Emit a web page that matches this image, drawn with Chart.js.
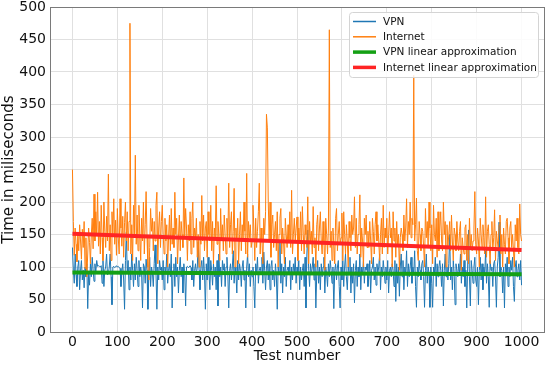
<!DOCTYPE html>
<html>
<head>
<meta charset="utf-8">
<script src="https://cdn.jsdelivr.net/npm/chart.js@4.4.1/dist/chart.umd.min.js"></script>
<style>
  html, body { margin: 0; padding: 0; background: #fff; }
  #wrap { width: 550px; height: 365px; position: relative; }
</style>
</head>
<body>
<div id="wrap"><canvas id="chart"></canvas></div>
<script>
// one sample every 2 tests
const STEP = 2;

const internetTimes = [
  250,170,118,160,135,108,152,125,165,140, 112,158,130,170,98,145,85,120,160,138,
  105,150,175,128,212,140,185,150,215,132, 170,120,195,145,110,200,155,130,178,140,
  243,125,165,110,185,150,205,135,172,118,
  190,145,120,205,160,132,178,115,168,200, 140,185,125,170,475,120,165,110,195,150,
  272,135,180,125,195,150,110,175,140,200, 120,165,216,145,100,80,130,190,155,175,
  125,170,140,195,215,105,160,185,130,170,
  195,150,120,175,140,165,100,145,180,125, 190,135,160,130,215,150,175,105,145,180,
  125,170,150,130,237,145,190,160,110,165, 140,185,120,175,200,130,160,145,175,115,
  150,100,170,135,210,140,180,125,160,170,
  115,185,150,140,195,125,170,105,160,145, 225,135,170,150,110,190,140,165,125,180,
  150,120,175,140,229,130,165,185,120,155, 221,100,160,140,175,105,150,185,125,165,
  140,200,155,120,244,115,170,145,165,130,
  140,195,160,110,175,130,155,185,229,120, 160,140,105,175,150,185,335,314,200,140,
  200,115,165,180,130,150,170,125,185,100, 150,175,190,120,160,140,105,175,150,130,
  165,140,185,130,218,120,150,175,140,160,
  177,110,160,140,185,125,193,150,120,165, 150,130,208,105,170,140,155,120,193,130,
  145,100,165,180,125,160,185,140,120,170, 140,95,175,150,120,160,465,130,155,110,
  160,135,105,175,190,125,150,170,135,145,
  183,110,185,150,120,165,140,100,170,145, 125,180,150,160,208,130,175,120,150,165,
  211,115,160,140,100,175,150,180,130,155, 130,170,140,105,175,155,120,165,185,140,
  165,140,110,150,175,120,195,130,160,145,
  175,120,150,185,145,160,100,185,140,160, 115,170,135,150,95,145,160,150,125,180,
  140,160,205,130,170,150,200,145,175,165, 395,140,165,206,125,110,170,150,125,160,
  155,130,100,190,145,170,130,200,160,125,
  165,105,195,150,140,175,115,185,125,160, 185,140,125,200,150,170,100,165,130,150,
  170,125,180,140,110,160,150,125,170,140, 125,155,170,95,145,130,120,160,165,110,
  150,105,175,130,150,125,140,160,216,135,
  120,160,140,100,175,150,130,165,145,120, 208,115,155,165,135,105,150,170,125,145,
  188,110,155,140,130,165,180,120,150,100, 160,135,120,170,175,145,105,160,170,130,
  150,125,100,165,140,175,130,120,197,150,
  140
];

const vpnTimes = [
  130,95,75,120,88,70,100,110,65,95, 110,80,95,68,100,85,105,36,90,72,
  105,85,115,95,78,105,92,110,101,102, 101,100,102,75,110,70,95,100,120,88,
  90,100,120,85,42,100,101,99,100,102,
  100,101,99,98,70,92,105,80,35,110, 154,90,110,65,100,80,120,95,70,105,
  80,115,95,70,110,85,100,90,37,105, 100,75,112,95,35,85,115,70,100,92,
  70,105,134,90,35,100,80,110,95,100,
  80,110,65,100,90,120,75,95,105,85, 120,37,95,105,70,115,85,100,60,95,
  115,85,100,60,105,90,40,100,101,99, 100,102,99,80,110,70,95,105,88,100,
  139,95,65,100,110,80,115,90,35,105,
  80,115,90,65,110,95,72,105,85,100, 65,110,40,120,85,100,70,110,95,105,
  70,100,115,88,37,95,105,80,100,125, 75,100,90,60,110,80,105,95,70,100,
  110,80,95,37,100,120,85,105,70,95,
  85,100,70,37,105,90,115,75,95,100, 90,115,75,123,95,65,100,110,80,105,
  65,100,110,80,95,70,105,88,35,100, 90,139,75,105,60,100,85,115,70,95,
  100,90,110,65,100,80,105,90,115,75,
  100,90,110,65,100,80,95,105,70,115, 37,120,157,95,70,105,88,100,115,80,
  105,37,90,110,75,100,65,105,85,100, 115,60,100,90,70,105,85,110,95,75,
  100,36,95,105,80,100,110,70,37,100,
  80,110,70,100,120,85,65,100,90,115, 60,100,75,105,45,95,110,70,100,85,
  120,65,100,90,110,75,100,95,105,70, 85,110,60,95,100,115,80,100,72,105,
  90,100,120,65,100,85,110,95,75,100,
  80,110,60,95,100,85,105,95,70,110, 47,105,75,100,55,100,120,85,110,65,
  100,90,125,70,105,85,100,115,75,100, 90,125,70,38,100,85,110,95,80,105,
  110,85,38,95,120,75,100,90,38,100,
  75,38,100,90,115,70,105,85,100,110, 95,70,105,40,95,120,85,100,80,105,
  150,80,100,65,110,90,42,105,95,85, 105,90,120,75,100,85,110,70,95,37,
  100,157,85,40,110,95,75,100,115,80,
  70,100,42,95,115,80,105,65,100,90, 125,75,105,85,38,110,95,100,70,105,
  110,85,38,100,115,169,85,100,95,60, 100,37,105,90,115,70,100,85,110,95,
  115,70,47,100,110,85,95,105,80,110,
  72
];

// end points of the two fitted lines
const fitTests = [0, 1000];
const vpnFit = [91.5, 88.7];
const internetFit = [151, 126];

const xTicks = [0, 100, 200, 300, 400, 500, 600, 700, 800, 900, 1000];
const yTicks = [0, 50, 100, 150, 200, 250, 300, 350, 400, 450, 500];

const FONT = "'DejaVu Sans', sans-serif";

function toPoints(xs, ys) {
  return ys.map((y, i) => ({ x: xs[i], y: y }));
}
const tests = internetTimes.map((_, i) => i * STEP);

// legend drawn inside the plot, top right
const legendBox = {
  id: 'legendBox',
  afterDraw(chart) {
    const ctx = chart.ctx;
    const x = 349, y = 12, w = 189, h = 65;
    ctx.save();
    ctx.fillStyle = 'rgba(255,255,255,0.85)';
    ctx.strokeStyle = '#d4d4d4';
    ctx.lineWidth = 1;
    ctx.beginPath();
    ctx.roundRect(x + 0.5, y + 0.5, w, h, 3);
    ctx.fill();
    ctx.stroke();
    ctx.font = '10.5px ' + FONT;
    ctx.textBaseline = 'middle';
    ctx.fillStyle = '#111';
    chart.data.datasets.forEach((ds, i) => {
      const ly = y + 9.5 + i * 15.3;
      ctx.strokeStyle = ds.borderColor;
      ctx.lineWidth = ds.legendWidth;
      ctx.beginPath();
      ctx.moveTo(x + 4, ly);
      ctx.lineTo(x + 27, ly);
      ctx.stroke();
      ctx.fillText(ds.label, x + 34, ly + 0.5);
    });
    ctx.restore();
  }
};

// grey frame on all four sides
const frame = {
  id: 'frame',
  afterDatasetsDraw(chart) {
    const a = chart.chartArea;
    const ctx = chart.ctx;
    ctx.save();
    ctx.strokeStyle = '#7a7a7a';
    ctx.lineWidth = 1;
    ctx.strokeRect(Math.round(a.left) + 0.5, Math.round(a.top) + 0.5,
      Math.round(a.right - a.left), Math.round(a.bottom - a.top));
    ctx.restore();
  }
};

new Chart(document.getElementById('chart'), {
  type: 'line',
  data: {
    datasets: [
      {
        label: 'VPN',
        data: toPoints(tests, vpnTimes),
        borderColor: '#1f77b4',
        borderWidth: 1,
        legendWidth: 1.5,
        order: 4
      },
      {
        label: 'Internet',
        data: toPoints(tests, internetTimes),
        borderColor: '#ff7f0e',
        borderWidth: 1,
        legendWidth: 1.5,
        order: 3
      },
      {
        label: 'VPN linear approximation',
        data: toPoints(fitTests, vpnFit),
        borderColor: '#14a014',
        borderWidth: 4,
        legendWidth: 3.5,
        order: 2
      },
      {
        label: 'Internet linear approximation',
        data: toPoints(fitTests, internetFit),
        borderColor: '#ff2424',
        borderWidth: 4,
        legendWidth: 3.5,
        order: 1
      }
    ]
  },
  options: {
    responsive: true,
    maintainAspectRatio: false,
    animation: false,
    layout: { padding: { top: 0, right: 6, left: 0, bottom: 0 } },
    elements: {
      point: { radius: 0 },
      line: { tension: 0 }
    },
    plugins: {
      legend: { display: false },
      tooltip: { enabled: false }
    },
    scales: {
      x: {
        type: 'linear',
        min: -50,
        max: 1050,
        afterBuildTicks: s => { s.ticks = xTicks.map(v => ({ value: v })); },
        afterFit: s => { s.height = 33; },
        grid: { color: '#e0e0e0', drawTicks: false },
        border: { display: false },
        ticks: {
          font: { family: FONT, size: 14, lineHeight: 1 },
          color: '#111',
          padding: 3,
          maxRotation: 0,
          callback: v => String(v)
        },
        title: {
          display: true,
          text: 'Test number',
          font: { family: FONT, size: 14 },
          color: '#111',
          padding: { top: 0, bottom: 0 }
        }
      },
      y: {
        min: 0,
        max: 500,
        afterBuildTicks: s => { s.ticks = yTicks.map(v => ({ value: v })); },
        afterFit: s => { s.width = 50; s.paddingTop = 7; },
        grid: { color: '#e0e0e0', drawTicks: false },
        border: { display: false },
        ticks: { font: { family: FONT, size: 14, lineHeight: 1 }, color: '#111', padding: 4 },
        title: {
          display: true,
          text: 'Time in miliseconds',
          font: { family: FONT, size: 15 },
          color: '#111',
          padding: { top: 0, bottom: 0 }
        }
      }
    }
  },
  plugins: [legendBox, frame]
});
</script>
</body>
</html>
